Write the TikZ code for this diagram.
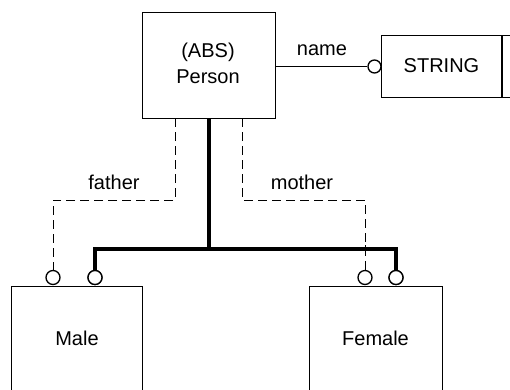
\documentclass[tikz,border=0pt]{standalone}
\usepackage{fontspec}
\setmainfont{Liberation Sans}
\begin{document}
\begin{tikzpicture}[x=1pt,y=-1pt,
  box/.style={draw,line width=1.1pt,inner sep=0pt,anchor=north west},
  lbl/.style={font=\fontsize{20}{26}\selectfont,inner sep=0pt},
  thin/.style={line width=1pt},
  thick/.style={line width=4pt},
  dsh/.style={line width=1pt,dash pattern=on 9pt off 5pt},
  ring/.style={circle,draw,line width=1.3pt,fill=white,minimum size=14pt,inner sep=0pt}]
\useasboundingbox (0,0) rectangle (510,389);
\begin{scope}
\clip (0,0) rectangle (510,389);
% boxes
\node[box,minimum width=133pt,minimum height=106pt] (person) at (142,12) {};
\node[lbl,align=center] (ptext) at (208,63) {(ABS)\\Person};
\node[box,minimum width=140pt,minimum height=62pt] (string) at (381,35) {};
\draw[line width=1.1pt] (502,35) -- (502,97);
\node[lbl] (stext) at (441.5,66) {STRING};
\node[box,minimum width=131pt,minimum height=120pt] (male) at (11,286) {};
\node[lbl] (mtext) at (77,338) {Male};
\node[box,minimum width=133pt,minimum height=120pt] (female) at (309,286) {};
\node[lbl] (ftext) at (375.5,338) {Female};
% name relation
\node[ring,minimum size=13pt] (nring) at (374.5,66.5) {};
\draw[thin] (person.east |- nring) -- (nring);
\node[lbl] (nlabel) at (322,50) {name};
% rings on subtypes
\node[ring] (r1) at (53,277.5) {};
\node[ring] (r2) at (95,277.5) {};
\node[ring] (r3) at (365,277.5) {};
\node[ring] (r4) at (396,277.5) {};
% dashed father / mother
\coordinate (fa) at (175,118);
\coordinate (mo) at (242,118);
\draw[dsh] (fa) -- (175,200) -- (53,200) -- (r1.north);
\draw[dsh] (mo) -- (242,200) -- (365,200) -- (r3.north);
\node[lbl] (flabel) at (114,182) {father};
\node[lbl] (mlabel) at (302,182) {mother};
% thick generalisation
\coordinate (top) at (209,118);
\draw[thick] (top) -- (209,249);
\draw[thick,line cap=rect] (95,249) -- (396,249);
\draw[thick] (95,249) -- (r2.north);
\draw[thick] (396,249) -- (r4.north);
\draw[thin] (365,245) -- (365,253);
\node[ring] at (r2) {};
\node[ring] at (r4) {};
\end{scope}
\end{tikzpicture}
\end{document}
